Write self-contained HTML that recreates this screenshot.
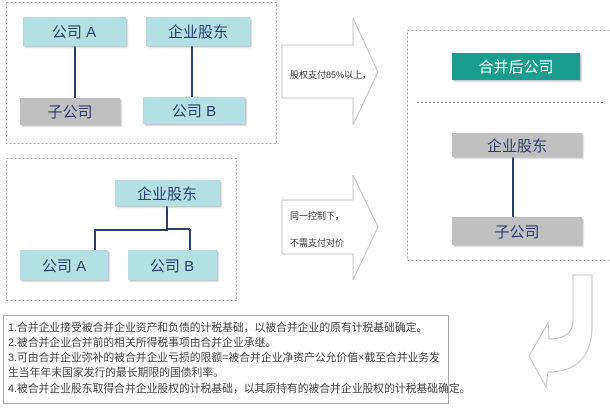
<!DOCTYPE html>
<html><head><meta charset="utf-8"><style>
html,body{margin:0;padding:0;background:#fff;}
svg{display:block;font-family:"Liberation Sans","Noto Sans CJK SC",sans-serif;}
</style></head><body>
<svg width="610" height="408" viewBox="0 0 610 408" xmlns="http://www.w3.org/2000/svg">
<defs>
<filter id="sh" x="-10%" y="-10%" width="130%" height="140%"><feDropShadow dx="1.5" dy="1.5" stdDeviation="0.8" flood-color="#999" flood-opacity="0.6"/></filter>
</defs>
<g fill="none" stroke="#aaa" stroke-dasharray="2,2" stroke-width="1">
<rect x="6.5" y="2.5" width="270" height="141"/>
<rect x="6.5" y="158.5" width="230" height="142"/>
<rect x="407.5" y="30.5" width="210" height="230"/>
<line x1="417" y1="102.5" x2="603" y2="102.5" stroke="#888"/>
</g>
<g stroke="#2c3e66" stroke-width="2">
<line x1="75" y1="46" x2="75" y2="98"/>
<line x1="192" y1="46" x2="192" y2="97"/>
<line x1="513" y1="157" x2="513" y2="217"/>
<polyline points="167,206 167,230 95,230" fill="none"/>
<line x1="95" y1="229" x2="95" y2="250"/>
<line x1="167" y1="229" x2="190" y2="229"/>
<line x1="190" y1="229" x2="190" y2="250"/>
</g>
<g filter="url(#sh)">
<rect x="23" y="17" width="103" height="29" fill="#b5e0e3"/>
<rect x="146" y="17" width="104" height="29" fill="#b5e0e3"/>
<rect x="20" y="98" width="100" height="27" fill="#c0c0c0"/>
<rect x="143" y="97" width="102" height="27" fill="#b5e0e3"/>
<rect x="115" y="180" width="105" height="26" fill="#b5e0e3"/>
<rect x="20" y="250" width="88" height="30" fill="#b5e0e3"/>
<rect x="128" y="250" width="89" height="30" fill="#b5e0e3"/>
<rect x="452" y="53" width="128" height="27" fill="#1f9b8f"/>
<rect x="452" y="133" width="130" height="24" fill="#c0c0c0"/>
<rect x="452" y="217" width="130" height="28" fill="#c0c0c0"/>
</g>
<g font-size="15" fill="#2c3e6e" text-anchor="middle">
<text x="74" y="37">公司 A</text>
<text x="198" y="37">企业股东</text>
<text x="70" y="117">子公司</text>
<text x="194" y="116">公司 B</text>
<text x="167" y="199">企业股东</text>
<text x="64" y="271">公司 A</text>
<text x="172" y="271">公司 B</text>
<text x="516" y="72" fill="#fff">合并后公司</text>
<text x="517" y="151">企业股东</text>
<text x="517" y="237">子公司</text>
</g>
<g fill="#fff" stroke="#c8c8c8" stroke-width="1">
<polygon points="282,45 353,45 353,18 378,72 353,125 353,98 282,98"/>
<polygon points="282,200 353,200 353,175 378,227 353,280 353,254 282,254"/>
<path d="M573,275 L592,275 L592,325 Q592,372 548,372 L546,387 L529,356 L548,323 L549,339 Q573,339 573,320 Z"/>
</g>
<g font-size="9" fill="#333">
<text x="290" y="78">股权支付85%以上，</text>
<text x="290" y="219">同一控制下，</text>
<text x="290" y="246">不需支付对价</text>
</g>
<rect x="3.5" y="315.5" width="445" height="88" fill="#fff" stroke="#aaa"/>
<g font-size="10.8" fill="#444">
<text x="8" y="331">1.合并企业接受被合并企业资产和负债的计税基础，以被合并企业的原有计税基础确定。</text>
<text x="8" y="346">2.被合并企业合并前的相关所得税事项由合并企业承继。</text>
<text x="8" y="361">3.可由合并企业弥补的被合并企业亏损的限额=被合并企业净资产公允价值×截至合并业务发</text>
<text x="8" y="376">生当年年末国家发行的最长期限的国债利率。</text>
<text x="8" y="392">4.被合并企业股东取得合并企业股权的计税基础，以其原持有的被合并企业股权的计税基础确定。</text>
</g>
</svg>
</body></html>
